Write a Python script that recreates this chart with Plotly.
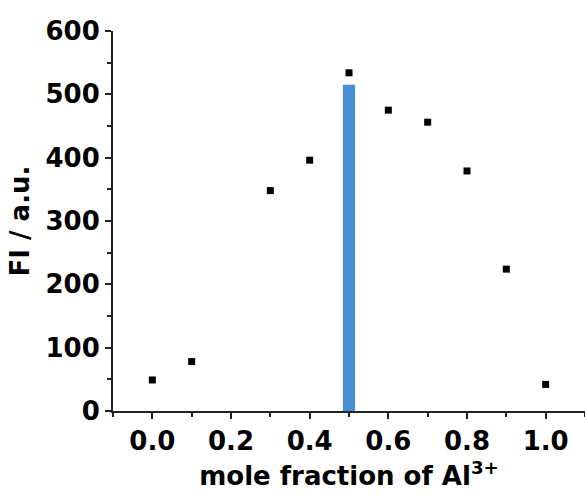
import plotly.graph_objects as go

# Job's plot: fluorescence intensity vs. mole fraction of Al3+
mole_fraction = [0.0, 0.1, 0.3, 0.4, 0.5, 0.6, 0.7, 0.8, 0.9, 1.0]
intensity = [49, 78, 348, 396, 534, 475, 456, 379, 224, 42]

# highlighted maximum (stoichiometry marker)
peak_x = [0.5]
peak_y = [515]

x_ticks = [0.0, 0.2, 0.4, 0.6, 0.8, 1.0]
x_ticklabels = ["0.0", "0.2", "0.4", "0.6", "0.8", "1.0"]
y_ticks = [0, 100, 200, 300, 400, 500, 600]

FONT = "DejaVu Sans"
AXIS_COLOR = "#222222"

fig = go.Figure()
fig.add_trace(go.Bar(
    x=peak_x, y=peak_y, width=0.031,
    marker=dict(color="#4a8fd6", line=dict(width=0)),
    showlegend=False,
))
fig.add_trace(go.Scatter(
    x=mole_fraction, y=intensity, mode="markers",
    marker=dict(symbol="square", size=7, color="black"),
    showlegend=False,
))

fig.update_layout(
    width=585, height=500,
    margin=dict(l=113, r=0, t=31, b=89),
    plot_bgcolor="white", paper_bgcolor="white",
    font=dict(family=FONT, color="black"),
    xaxis=dict(
        range=[-0.1, 1.1],
        tickvals=x_ticks, ticktext=x_ticklabels,
        ticks="outside", ticklen=6, tickwidth=2, tickcolor=AXIS_COLOR,
        minor=dict(ticks="outside", ticklen=4, tickwidth=2, tickcolor=AXIS_COLOR, dtick=0.1, tick0=0.1),
        showline=True, linewidth=2, linecolor=AXIS_COLOR,
        showgrid=False, zeroline=False,
        tickfont=dict(family=FONT, size=26, weight="bold"),
        title=dict(text="mole fraction of Al<sup>3+</sup>",
                   font=dict(family=FONT, size=26, weight="bold"), standoff=12),
    ),
    yaxis=dict(
        range=[0, 600],
        tickvals=y_ticks,
        ticks="outside", ticklen=6, tickwidth=2, tickcolor=AXIS_COLOR,
        minor=dict(ticks="outside", ticklen=4, tickwidth=2, tickcolor=AXIS_COLOR, dtick=50, tick0=50),
        showline=True, linewidth=2, linecolor=AXIS_COLOR,
        showgrid=False, zeroline=False,
        tickfont=dict(family=FONT, size=26, weight="bold"),
        title=dict(text="FI / a.u.", font=dict(family=FONT, size=26, weight="bold"), standoff=8),
    ),
)

fig.write_html("out.html")
